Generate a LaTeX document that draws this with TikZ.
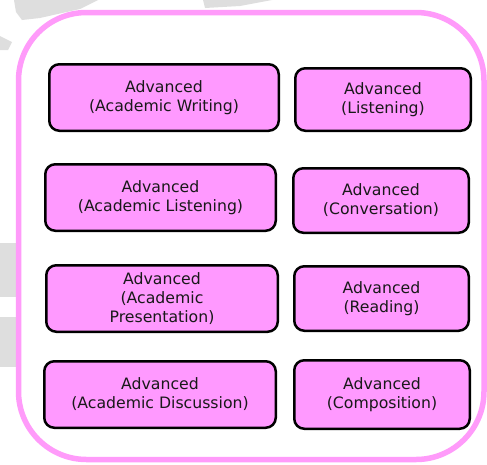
\documentclass[tikz,border=0pt]{standalone}
\usepackage{fontspec}
\setmainfont{DejaVu Sans}
\definecolor{boxpink}{RGB}{255,153,255}
\definecolor{framepink}{RGB}{255,155,250}
\definecolor{shade}{RGB}{222,222,222}
\definecolor{txt}{RGB}{25,25,25}
\tikzset{
  course/.style={draw=black, fill=boxpink, line width=2.5pt, rounded corners=10pt,
    align=center, inner sep=0pt, text=txt, font=\fontsize{15.7}{19}\selectfont},
  frame/.style={draw=framepink, line width=5.5pt, rounded corners=68pt},
  ghost/.style={fill=shade, draw=none}
}
\begin{document}
\begin{tikzpicture}[x=1pt,y=-1pt]
\useasboundingbox (0,0) rectangle (487,464);
% faint background shapes
\fill[ghost] (14,0) -- (98,0) -- (80,9) -- (40,18) -- (22,20) -- (16,12) -- cycle;
\fill[ghost] (203,0) -- (272,0) -- (240,6) -- (205,8) -- cycle;
\fill[ghost] (0,36) -- (12,42) -- (8,50) -- (0,50) -- cycle;
\fill[ghost] (0,243) rectangle (16,297);
\fill[ghost] (0,317) rectangle (16,367);
% outer frame
\draw[frame, fill=white] (18.5,12.5) rectangle (484,459.5);
% course boxes
\node[course, minimum width=229.5pt, minimum height=66.5pt] (aw) at (164,97.5) {Advanced\\(Academic Writing)};
\node[course, minimum width=175.5pt, minimum height=62.5pt] (li) at (383,99.5) {Advanced\\(Listening)};
\node[course, minimum width=230.5pt, minimum height=66.5pt] (al) at (160.5,197.5) {Advanced\\(Academic Listening)};
\node[course, minimum width=175.5pt, minimum height=64.5pt] (co) at (381,200.5) {Advanced\\(Conversation)};
\node[course, minimum width=231.5pt, minimum height=66.5pt] (ap) at (162,298.5) {Advanced\\(Academic\\Presentation)};
\node[course, minimum width=174.5pt, minimum height=64.5pt] (re) at (381.5,298.5) {Advanced\\(Reading)};
\node[course, minimum width=231.5pt, minimum height=66.5pt] (ad) at (160,394.5) {Advanced\\(Academic Discussion)};
\node[course, minimum width=175.5pt, minimum height=68.5pt] (cm) at (382,394.5) {Advanced\\(Composition)};
\end{tikzpicture}
\end{document}
